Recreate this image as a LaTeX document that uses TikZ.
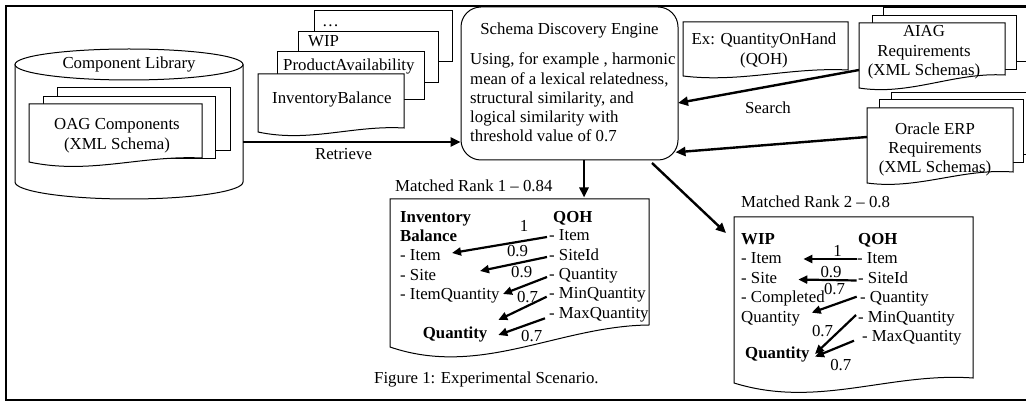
\documentclass[tikz,border=0pt]{standalone}
\usepackage{fontspec}
\setmainfont{Liberation Serif}
\usetikzlibrary{arrows.meta,calc}
\newcommand\docpage[7]{%
 \pgfmathsetmacro\docxa{#1+0.35*(#3-#1)}%
 \pgfmathsetmacro\docxb{#1+0.65*(#3-#1)}%
 \draw[shapeline] (#1,#4) -- (#1,#2) -- (#3,#2) -- (#3,#5) .. controls (\docxb,#7) and (\docxa,#6) .. (#1,#4) -- cycle;}
\begin{document}
\begin{tikzpicture}[x=1pt,y=-1pt,
 font=\fontsize{16.8}{19.3}\selectfont,
 shapeline/.style={line width=1pt, fill=white},
 conn/.style={line width=2.4pt, -{Triangle[length=10pt,width=9pt]}},
 smallconn/.style={line width=2.2pt, -{Triangle[length=9pt,width=8pt]}},
 txt/.style={inner sep=0pt, anchor=base west},
 ctxt/.style={inner sep=0pt, anchor=base},
 engine/.style={draw, line width=1pt, rounded corners=20pt, minimum width=217pt, minimum height=153pt, inner sep=0pt}]
\useasboundingbox (0,0) rectangle (1026,403);
% frame
\draw[line width=1.1pt] (1040,6) -- (6,6) -- (6,400) -- (1040,400);
% cylinder
\draw[line width=1pt] (15,64.5) -- (15,182) arc[start angle=180, end angle=360, x radius=114pt, y radius=17pt] -- (243,64.5);
\draw[line width=1pt] (129,64.5) ellipse [x radius=114pt, y radius=15.5pt];
\node[ctxt] (complib) at (129,69) {Component Library};
% OAG stack
\draw[shapeline] (57,88) rectangle (230,151);
\draw[shapeline] (43,97) rectangle (215,159);
\docpage{29}{104}{202}{162}{158}{175}{155}
\node[ctxt] (oag1) at (117,130) {OAG Components};
\node[ctxt] (oag2) at (117,149.5) {(XML Schema)};
% retrieved documents stack
\draw[shapeline] (314,11) rectangle (452,62);
\draw[shapeline] (298,32) rectangle (438,83);
\draw[shapeline] (277,52) rectangle (424,100);
\docpage{258}{74}{404}{132}{128}{143}{125}
\node[txt] (dots) at (322,27) {…};
\node[txt] (wipdoc) at (308,47) {WIP};
\node[txt] (padoc) at (283,71) {ProductAvailability};
\node[txt] (ibdoc) at (272,104) {InventoryBalance};
% engine
\node[engine] (eng) at (569.5,83.5) {};
\node[ctxt] (engt) at (569.5,35) {Schema Discovery Engine};
\node[txt] (eng1) at (470,65) {Using, for example , harmonic};
\node[txt] (eng2) at (470,84.2) {mean of a lexical relatedness,};
\node[txt] (eng3) at (470,103.4) {structural similarity, and};
\node[txt] (eng4) at (470,122.6) {logical similarity with};
\node[txt] (eng5) at (470,141.8) {threshold value of 0.7};
% Ex QOH
\docpage{683}{22}{848}{76}{70}{83}{67}
\node[ctxt] (ex1) at (764,45) {Ex: QuantityOnHand};
\node[ctxt] (ex2) at (764,64.5) {(QOH)};
% AIAG stack
\draw[shapeline] (883,8) rectangle (1040,62);
\draw[shapeline] (872,15.5) rectangle (1016,70);
\docpage{859}{23}{1005}{88}{75}{96}{72}
\node[ctxt] (aiag1) at (924,37) {AIAG};
\node[ctxt] (aiag2) at (924,56.5) {Requirements};
\node[ctxt] (aiag3) at (924,75.5) {(XML Schemas)};
% Oracle stack
\draw[shapeline] (891,93) rectangle (1040,155);
\draw[shapeline] (879,100) rectangle (1023,163);
\docpage{867}{108}{1013}{183}{172}{190}{168}
\node[ctxt] (ora1) at (935,135) {Oracle ERP};
\node[ctxt] (ora2) at (935,154) {Requirements};
\node[ctxt] (ora3) at (935,173) {(XML Schemas)};
% main connectors
\coordinate (cylR) at (243,142);
\draw[conn] (cylR) -- (cylR -| eng.west);
\node[ctxt] (retrieve) at (343.5,160) {Retrieve};
\coordinate (aiagL) at (859,70);
\coordinate (engA) at (678,103);
\draw[conn] (aiagL) -- (engA);
\coordinate (oraL) at (867,137);
\coordinate (engB) at (675.5,152.3);
\draw[conn] (oraL) -- (engB);
\node[ctxt] (search) at (768,114) {Search};
\coordinate (r1top) at (584,197.5);
\draw[conn] (r1top |- eng.south) -- (r1top);
\coordinate (engC) at (652,163);
\coordinate (r2top) at (726,233);
\draw[conn] (engC) -- (r2top);
% rank 1 document
\node[txt] (rank1) at (395,192) {Matched Rank 1 – 0.84};
\docpage{390}{199}{649}{347}{325}{378}{326}
\node[txt,font=\fontsize{16.8}{19.3}\selectfont\bfseries] (ib1) at (400,222.3) {Inventory};
\node[txt,font=\fontsize{16.8}{19.3}\selectfont\bfseries] (ib2) at (400,241.6) {Balance};
\node[txt] (ib3) at (400,260.9) {- Item};
\node[txt] (ib4) at (400,280.2) {- Site};
\node[txt] (ib5) at (400,299.5) {- ItemQuantity};
\node[txt,font=\fontsize{16.8}{19.3}\selectfont\bfseries] (ib6) at (422.7,338.3) {Quantity};
\node[txt,font=\fontsize{16.8}{19.3}\selectfont\bfseries] (q1h) at (553,222.3) {QOH};
\node[txt] (q1a) at (549,241) {- Item};
\node[txt] (q1b) at (549,260.3) {- SiteId};
\node[txt] (q1c) at (549,279.6) {- Quantity};
\node[txt] (q1d) at (549,298.9) {- MinQuantity};
\node[txt] (q1e) at (549,318.2) {- MaxQuantity};
\coordinate (a1s) at (547,237); \coordinate (a1e) at (452,253);
\coordinate (a2s) at (547,257); \coordinate (a2e) at (480,271);
\coordinate (a3s) at (547,277); \coordinate (a3e) at (503,294);
\coordinate (a4s) at (546.7,296.7); \coordinate (a4e) at (498.3,320);
\coordinate (a5s) at (545,318.3); \coordinate (a5e) at (498.3,335);
\draw[smallconn] (a1s) -- (a1e);
\draw[smallconn] (a2s) -- (a2e);
\draw[smallconn] (a3s) -- (a3e);
\draw[smallconn] (a4s) -- (a4e);
\draw[smallconn] (a5s) -- (a5e);
\node[ctxt] (l11) at (524,231.7) {1};
\node[ctxt] (l12) at (517.5,256.7) {0.9};
\node[ctxt] (l13) at (521.7,278) {0.9};
\node[ctxt] (l14) at (527.5,303) {0.7};
\node[ctxt] (l15) at (531.7,341.7) {0.7};
% rank 2 document
\node[txt] (rank2) at (741,208) {Matched Rank 2 – 0.8};
\docpage{734}{217}{973}{383}{378}{409}{372}
\node[txt,font=\fontsize{16.8}{19.3}\selectfont\bfseries] (w1) at (741,244.3) {WIP};
\node[txt] (w2) at (741,264) {- Item};
\node[txt] (w3) at (741,283.5) {- Site};
\node[txt] (w4) at (741,303) {- Completed};
\node[txt] (w5) at (741,322.5) {Quantity};
\node[txt,font=\fontsize{16.8}{19.3}\selectfont\bfseries] (w6) at (745,358.3) {Quantity};
\node[txt,font=\fontsize{16.8}{19.3}\selectfont\bfseries] (q2h) at (858,244.3) {QOH};
\node[txt] (q2a) at (857,264) {- Item};
\node[txt] (q2b) at (858,283.5) {- SiteId};
\node[txt] (q2c) at (860,303) {- Quantity};
\node[txt] (q2d) at (858,322.5) {- MinQuantity};
\node[txt] (q2e) at (862,342) {- MaxQuantity};
\coordinate (b1s) at (856.7,259); \coordinate (b1e) at (803.3,259);
\coordinate (b2s) at (856.7,280.5); \coordinate (b2e) at (798.3,279.5);
\coordinate (b3s) at (856.7,296.7); \coordinate (b3e) at (811.7,312.7);
\coordinate (b4s) at (856,315); \coordinate (b4e) at (815,354);
\coordinate (b5s) at (854,340.7); \coordinate (b5e) at (815,356.7);
\draw[smallconn] (b1s) -- (b1e);
\draw[smallconn] (b2s) -- (b2e);
\draw[smallconn] (b3s) -- (b3e);
\draw[smallconn] (b4s) -- (b4e);
\draw[smallconn] (b5s) -- (b5e);
\node[ctxt] (l21) at (837.5,256.7) {1};
\node[ctxt] (l22) at (831,277.3) {0.9};
\node[ctxt] (l23) at (834.5,295) {0.7};
\node[ctxt] (l24) at (822.5,336.7) {0.7};
\node[ctxt] (l25) at (840.8,371) {0.7};
% caption
\node[txt] (caption) at (374,384) {Figure 1: Experimental Scenario.};
\end{tikzpicture}
\end{document}
